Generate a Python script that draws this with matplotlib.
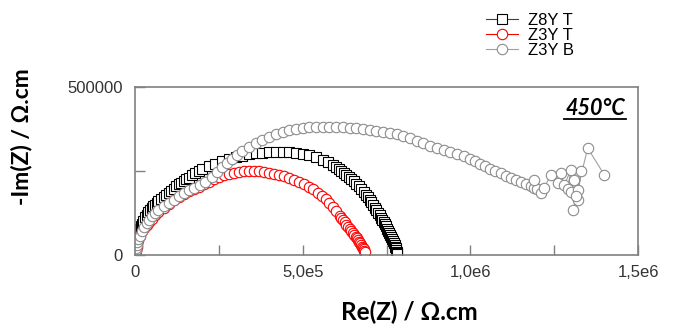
import matplotlib
matplotlib.use('Agg')
import matplotlib.pyplot as plt
from matplotlib.ticker import FuncFormatter, MultipleLocator

# Z8Y T (squares)
z8y_t_re = [0, 1.5e3, 3e3, 4.5e3, 6e3, 8e3, 1e4, 1.25e4, 1.5e4, 1.75e4, 2e4, 2.5e4, 3e4, 3.5e4,
            4e4, 4.5e4, 5e4, 5.5e4, 6e4, 6.5e4, 7e4, 7.75e4, 8.5e4, 9.25e4, 1e5, 1.075e5,
            1.15e5, 1.225e5, 1.3e5, 1.375e5, 1.45e5, 1.525e5, 1.6e5, 1.7e5, 1.8e5, 1.9e5,
            2e5, 2.2e5, 2.4e5, 2.6e5, 2.8e5, 3e5, 3.2e5, 3.4e5, 3.6e5, 3.8e5, 4e5, 4.2e5,
            4.4e5, 4.6e5, 4.8e5, 5e5, 5.2e5, 5.4e5, 5.6e5, 5.75e5, 5.9e5, 6e5, 6.08e5,
            6.15e5, 6.22e5, 6.3e5, 6.38e5, 6.45e5, 6.52e5, 6.6e5, 6.68e5, 6.75e5, 6.82e5,
            6.9e5, 6.95e5, 7e5, 7.05e5, 7.1e5, 7.15e5, 7.2e5, 7.25e5, 7.3e5, 7.34e5, 7.38e5,
            7.42e5, 7.45e5, 7.48e5, 7.52e5, 7.55e5, 7.58e5, 7.61e5, 7.64e5, 7.67e5, 7.7e5,
            7.72e5, 7.74e5, 7.76e5, 7.77e5, 7.79e5, 7.8e5, 7.81e5, 7.82e5]
z8y_t_im = [10000, 20000, 28000, 37000, 45000, 54000, 62000, 70000, 78000, 85000, 92000,
            102000, 112000, 120000, 127000, 134000, 140000, 145000, 150000, 155000, 160000,
            166000, 172000, 179000, 185000, 191000, 197000, 204000, 210000, 215000, 220000,
            225000, 230000, 237000, 243000, 249000, 255000, 264000, 272000, 279000, 285000,
            291000, 296000, 300000, 303000, 305000, 307000, 308000, 308000, 307000, 305000,
            302000, 297000, 291000, 283000, 276000, 267000, 261000, 256000, 250000, 244000,
            238000, 232000, 225000, 219000, 212000, 204000, 196000, 187000, 178000, 172000,
            165000, 158000, 150000, 141000, 133000, 126000, 118000, 111000, 104000, 98000,
            92000, 85000, 78000, 72000, 66000, 60000, 54000, 48000, 42000, 36000, 31000,
            25000, 20000, 15000, 10000, 6000, 3000]

# Z3Y T (red circles)
z3y_t_re = [0, 2e3, 5e3, 7e3, 1e4, 1.5e4, 2e4, 2.7e4, 3.5e4, 4.2e4, 5e4, 6e4, 7e4, 8.5e4,
            1e5, 1.15e5, 1.3e5, 1.45e5, 1.6e5, 1.75e5, 1.9e5, 2.05e5, 2.2e5, 2.35e5, 2.5e5,
            2.65e5, 2.8e5, 2.95e5, 3.1e5, 3.25e5, 3.4e5, 3.55e5, 3.7e5, 3.85e5, 4e5, 4.15e5,
            4.3e5, 4.45e5, 4.6e5, 4.75e5, 4.9e5, 5.05e5, 5.2e5, 5.32e5, 5.45e5, 5.57e5,
            5.7e5, 5.8e5, 5.9e5, 6e5, 6.1e5, 6.15e5, 6.2e5, 6.25e5, 6.3e5, 6.35e5, 6.4e5,
            6.45e5, 6.5e5, 6.54e5, 6.58e5, 6.62e5, 6.65e5, 6.68e5, 6.72e5, 6.75e5, 6.78e5,
            6.8e5, 6.82e5, 6.84e5, 6.85e5]
z3y_t_im = [5000, 15000, 25000, 35000, 45000, 58000, 70000, 80000, 90000, 99000, 108000,
            118000, 128000, 140000, 152000, 163000, 173000, 182000, 190000, 197000, 203000,
            211000, 218000, 225000, 232000, 237000, 242000, 245000, 248000, 249000, 250000,
            250000, 249000, 247000, 245000, 242000, 238000, 234000, 229000, 223000, 217000,
            210000, 203000, 195000, 186000, 176000, 166000, 154000, 142000, 130000, 117000,
            110000, 104000, 97000, 90000, 84000, 78000, 72000, 66000, 60000, 55000, 50000,
            45000, 40000, 35000, 30000, 25000, 21000, 17000, 13000, 10000]

# Z3Y B (gray circles)
z3y_b_re = [0, 1e3, 2e3, 3.5e3, 5e3, 7e3, 1e4, 1.4e4, 2e4, 2.7e4, 3.5e4, 4.2e4, 5e4, 6e4,
            7e4, 8.5e4, 1e5, 1.15e5, 1.3e5, 1.45e5, 1.6e5, 1.75e5, 1.95e5, 2.1e5, 2.3e5,
            2.45e5, 2.6e5, 2.75e5, 2.9e5, 3.05e5, 3.2e5, 3.4e5, 3.6e5, 3.8e5, 4e5, 4.2e5,
            4.4e5, 4.6e5, 4.8e5, 5e5, 5.2e5, 5.4e5, 5.6e5, 5.8e5, 6e5, 6.2e5, 6.4e5, 6.6e5,
            6.8e5, 7e5, 7.2e5, 7.4e5, 7.6e5, 7.8e5, 8e5, 8.2e5, 8.4e5, 8.6e5, 8.8e5, 9e5,
            9.2e5, 9.4e5, 9.6e5, 9.8e5, 1.0e6, 1.015e6, 1.03e6, 1.045e6, 1.06e6, 1.075e6,
            1.09e6, 1.105e6, 1.12e6, 1.135e6, 1.15e6, 1.165e6, 1.18e6, 1.19e6, 1.2e6,
            1.21e6, 1.19e6, 1.22e6, 1.24e6, 1.26e6, 1.27e6, 1.28e6, 1.30e6, 1.29e6, 1.31e6,
            1.30e6, 1.32e6, 1.33e6, 1.32e6, 1.307e6, 1.315e6, 1.35e6, 1.40e6]
z3y_b_im = [0, 8000, 15000, 22000, 30000, 38000, 48000, 58000, 70000, 82000, 95000, 105000,
            115000, 125000, 135000, 145000, 155000, 165000, 175000, 184000, 192000, 198000,
            207000, 217000, 232000, 246000, 261000, 274000, 287000, 299000, 310000, 322000,
            333000, 343000, 352000, 360000, 366000, 371000, 376000, 379000, 381000, 382000,
            382000, 382000, 381000, 380000, 379000, 377000, 374000, 371000, 368000, 365000,
            362000, 359000, 355000, 348000, 340000, 332000, 324000, 318000, 312000, 306000,
            300000, 294000, 287000, 280000, 272000, 264000, 256000, 250000, 243000, 236000,
            230000, 224000, 218000, 211000, 205000, 200000, 195000, 185000, 223000, 200000,
            238000, 214000, 244000, 208000, 253000, 195000, 223000, 187000, 193000, 250000,
            164000, 134000, 175000, 318000, 238000]

plt.rcParams['font.family'] = ['Liberation Sans', 'DejaVu Sans']
bold_font = ['Lato', 'DejaVu Sans']

fig = plt.figure(figsize=(6.73, 3.26), dpi=100, facecolor='w')
ax = fig.add_axes([0.2006, 0.2178, 0.7474, 0.5153])

ax.plot(z8y_t_re, z8y_t_im, '-s', color='#404040', mfc='white', mec='black',
        ms=6.5, mew=0.8, lw=0.8, label='Z8Y T')
ax.plot(z3y_t_re, z3y_t_im, '-o', color='red', mfc='white', mec='red',
        ms=7.5, mew=0.8, lw=0.8, label='Z3Y T')
ax.plot(z3y_b_re, z3y_b_im, '-o', color='#a0a0a0', mfc='white', mec='#8c8c8c',
        ms=7.5, mew=0.8, lw=0.8, label='Z3Y B')

ax.set_xlim(0, 1.5e6)
ax.set_ylim(0, 500000)
ax.xaxis.set_major_locator(MultipleLocator(5e5))
ax.xaxis.set_minor_locator(MultipleLocator(2.5e5))
ax.yaxis.set_major_locator(MultipleLocator(5e5))
ax.yaxis.set_minor_locator(MultipleLocator(2.5e5))


def fmt_x(v, pos):
    if v == 0:
        return '0'
    s = '%.1e' % v
    m, e = s.split('e')
    return m.replace('.', ',') + 'e' + str(int(e))


ax.xaxis.set_major_formatter(FuncFormatter(fmt_x))
ax.yaxis.set_major_formatter(FuncFormatter(lambda v, p: '%d' % v))
ax.tick_params(which='both', direction='in', color='#808080', length=7.5, width=1,
               labelsize=12, labelcolor='#333333')
ax.tick_params(axis='x', pad=7)
ax.tick_params(axis='y', pad=9)
for s in ax.spines.values():
    s.set_color('#808080')
    s.set_linewidth(1.2)

ax.set_xlabel('Re(Z) / Ω.cm', fontsize=17.5, fontweight='bold', family=bold_font, va='top')
ax.set_ylabel('-Im(Z) / Ω.cm', fontsize=16.5, fontweight='bold', family=bold_font)
ax.xaxis.set_label_coords(0.545, -0.27)
ax.yaxis.set_label_coords(-0.205, 0.705)

ax.text(0.915, 0.875, '450°C', transform=ax.transAxes, ha='center', va='center',
        fontsize=15.5, fontweight='bold', fontstyle='italic', family=bold_font)
ax.plot([0.853, 0.976], [0.812, 0.812], transform=ax.transAxes, color='black', lw=1.3,
        clip_on=False)

fig.legend(loc='upper left', bbox_to_anchor=(0.722, 0.96), frameon=False, fontsize=12,
           handlelength=1.9, labelspacing=0.0, handletextpad=0.6, borderpad=0,
           borderaxespad=0)

fig.savefig('out.png', dpi=100)
